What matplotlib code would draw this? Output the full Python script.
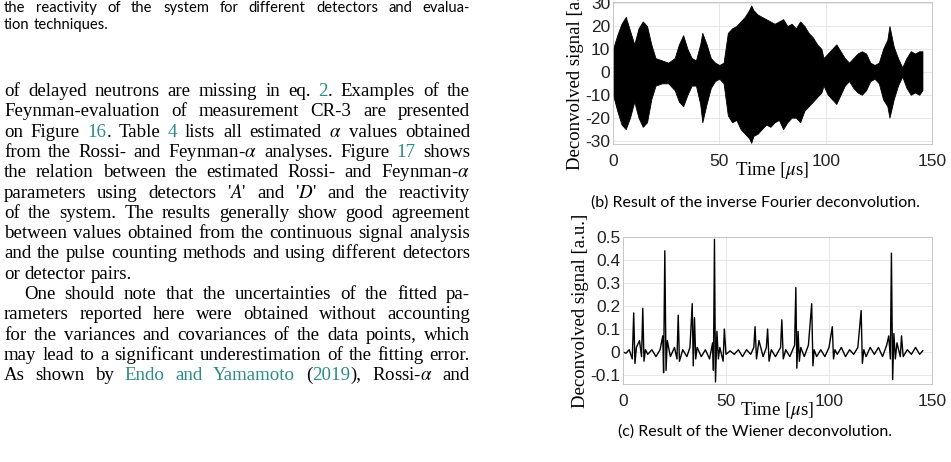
import matplotlib.pyplot as plt

## ---------------------------------------------------- DATA ----------------------------------------------------------
# (b) inverse Fourier result: envelope
fourier_t = [0, 2, 4, 6, 8, 10, 12, 14, 16, 18, 20, 23, 26, 29, 31, 33, 35, 37, 39, 41, 42, 44, 46,
             48, 50, 52, 54, 56, 58, 60, 62, 64, 65, 66, 68, 70, 72, 74, 76, 78, 80, 82, 84, 86, 88,
             90, 92, 94, 96, 98, 99, 101, 103, 105, 107, 109, 111, 113, 115, 117, 119, 121, 123,
             125, 127, 129, 130, 132, 134, 136, 138, 140, 142, 144, 145.5]
fourier_hi = [10, 16, 21, 24, 18, 12, 19, 22, 20, 12, 6, 5, 4, 6, 12, 16, 10, 6, 5, 12, 17, 12, 6,
              4, 3, 4, 17, 19, 20, 22, 24, 27, 29, 27, 25, 24, 23, 22, 21, 22, 23, 20, 21, 19, 22,
              20, 17, 15, 12, 10, 6, 8, 10, 12, 9, 6, 4, 6, 8, 9, 8, 4, 3, 4, 10, 14, 20, 11, 6,
              2, 6, 9, 8, 9, 9]
fourier_lo = [-10, -17, -23, -25, -20, -13, -20, -24, -22, -12, -6, -5, -5, -8, -13, -15, -10, -6,
              -6, -14, -22, -14, -7, -4, -3, -5, -19, -22, -21, -25, -27, -29, -31, -28, -27, -25,
              -23, -24, -22, -21, -25, -22, -20, -20, -22, -17, -15, -13, -11, -9, -6, -10, -12,
              -14, -10, -6, -4, -7, -9, -10, -8, -4, -3, -5, -12, -15, -20, -12, -6, -2, -7, -10,
              -9, -10, -8]

# (c) Wiener result
wiener_t = [0, 1.5, 3, 4.5, 5.2, 5.8, 6.5, 8, 9, 9.6, 10.2, 10.9, 12, 14, 16, 18, 19.3, 19.7, 20.3,
            20.9, 21.5, 23, 25, 26.2, 26.8, 27.4, 29, 31, 32.5, 33.6, 34.1, 34.7, 35.3, 36, 38, 40,
            42, 43.5, 43.9, 44.4, 44.9, 45.6, 46.3, 47, 48.6, 49.2, 50, 52, 54, 56, 58, 60, 62,
            63.5, 64.1, 64.8, 66, 68, 69.6, 70.2, 70.9, 72, 74, 76.5, 77.1, 77.8, 79, 81, 83.3,
            83.9, 84.4, 85, 85.6, 86.3, 88, 90, 91.6, 92.2, 92.8, 94, 96, 98, 100, 101.6, 102.2,
            102.9, 104, 106, 108, 110, 112, 114, 115.6, 116.2, 116.9, 118, 120, 122, 124, 126,
            128, 129, 129.8, 130.3, 130.9, 131.5, 132.2, 133, 134.6, 135.2, 136, 138, 140, 142,
            144, 145.5]
wiener_v = [0.0, -0.005, 0.01, -0.03, 0.17, -0.05, 0.02, 0.05, -0.02, 0.19, -0.04, 0.01, -0.01,
            0.01, -0.02, 0.01, 0.07, -0.09, 0.44, -0.08, 0.05, -0.02, 0.02, -0.03, 0.16, -0.04,
            0.01, -0.02, 0.02, 0.21, -0.06, 0.15, -0.03, 0.02, -0.02, 0.01, -0.03, 0.04, -0.08,
            0.49, -0.13, 0.09, -0.03, 0.02, -0.04, 0.10, -0.01, 0.005, -0.01, 0.01, -0.02, 0.01,
            -0.01, 0.02, 0.11, -0.03, 0.05, -0.02, 0.02, 0.10, -0.04, 0.01, -0.02, 0.02, 0.14,
            -0.03, 0.01, -0.02, 0.03, 0.28, -0.07, 0.09, -0.04, 0.02, -0.02, 0.03, 0.21, -0.06,
            0.01, -0.02, 0.01, -0.02, 0.02, 0.11, -0.03, 0.01, -0.01, 0.02, -0.02, 0.01, -0.01,
            0.02, 0.18, -0.05, 0.01, -0.02, 0.02, -0.01, 0.02, -0.02, 0.03, 0.07, -0.03, 0.43,
            -0.12, 0.08, -0.03, 0.04, -0.02, 0.07, -0.02, 0.01, -0.01, 0.02, -0.01, 0.005]

# left column text; pieces in {} are link-coloured
caption_lines = ["the reactivity of the system for different detectors and evalua-",
                 "tion techniques."]
body_lines = [
    "of delayed neutrons are missing in eq. {2}. Examples of the",
    "Feynman-evaluation of measurement CR-3 are presented",
    "on Figure {16}. Table {4} lists all estimated $\\alpha$ values obtained",
    "from the Rossi- and Feynman-$\\alpha$ analyses. Figure {17} shows",
    "the relation between the estimated Rossi- and Feynman-$\\alpha$",
    "parameters using detectors '$A$' and '$D$' and the reactivity",
    "of the system. The results generally show good agreement",
    "between values obtained from the continuous signal analysis",
    "and the pulse counting methods and using different detectors",
    "or detector pairs.",
    "One should note that the uncertainties of the fitted pa-",
    "rameters reported here were obtained without accounting",
    "for the variances and covariances of the data points, which",
    "may lead to a significant underestimation of the fitting error.",
    "As shown by {Endo} {and} {Yamamoto} ({2019}), Rossi-$\\alpha$ and",
]

## ---------------------------------------------------- FIGURE --------------------------------------------------------
W, H = 951, 462
plt.rcParams["mathtext.fontset"] = "stix"
fig = plt.figure(figsize=(W / 100, H / 100), dpi=100)

def px_axes(x0, y0, x1, y1):
    return fig.add_axes([x0 / W, 1 - y1 / H, (x1 - x0) / W, (y1 - y0) / H])

def style(ax, yticks, ylabels):
    ax.set_xlim(0, 150)
    ax.set_xticks([0, 50, 100, 150])
    ax.set_yticks(yticks)
    ax.set_yticklabels(ylabels)
    ax.grid(color="#e3e3e3", lw=0.6)
    ax.set_axisbelow(True)
    for s in ax.spines.values():
        s.set_color("#c0c0c0")
        s.set_linewidth(0.6)
    ax.tick_params(length=0, labelsize=12.5, pad=2, colors="#222222")
    ax.tick_params(axis="x", pad=7)
    for lab in ax.get_xticklabels() + ax.get_yticklabels():
        lab.set_family("Liberation Sans")
    ax.set_xlabel(r"Time $[\mu$s$]$", fontsize=13.5, family="Liberation Serif", labelpad=-6)
    ax.set_ylabel("Deconvolved signal [a.u.]", fontsize=13.5, family="Liberation Serif",
                  labelpad=1)

# (b)
ax1 = px_axes(613, 2, 932, 144)
ax1.fill_between(fourier_t, fourier_lo, fourier_hi, color="black", lw=0.6)
ax1.set_ylim(-31.5, 30.5)
style(ax1, [-30, -20, -10, 0, 10, 20, 30], ["-30", "-20", "-10", "0", "10", "20", "30"])
fig.text(755 / W, 1 - 203 / H, "(b) Result of the inverse Fourier deconvolution.",
         ha="center", va="center", fontsize=11.5, family="Lato")

# (c)
ax2 = px_axes(623, 237, 932, 384)
ax2.plot(wiener_t, wiener_v, color="black", lw=1.0)
ax2.set_ylim(-0.139, 0.5)
style(ax2, [-0.1, 0, 0.1, 0.2, 0.3, 0.4, 0.5], ["-0.1", "0", "0.1", "0.2", "0.3", "0.4", "0.5"])
fig.text(755 / W, 1 - 432 / H, "(c) Result of the Wiener deconvolution.",
         ha="center", va="center", fontsize=11.5, family="Lato")

# left column text, justified
fig.canvas.draw()
renderer = fig.canvas.get_renderer()
LINK = "#2e8b8b"

def put_line(line, y, size, family, x0, x1, justify):
    items = []
    for w in line.split(" "):
        parts = []
        rest = w
        while rest:
            if "{" in rest:
                i = rest.index("{")
                j = rest.index("}")
                if i > 0:
                    parts.append((rest[:i], "black"))
                parts.append((rest[i + 1:j], LINK))
                rest = rest[j + 1:]
            else:
                parts.append((rest, "black"))
                rest = ""
        items.append(parts)
    groups, widths = [], []
    for parts in items:
        group, wsum = [], 0
        for txt, col in parts:
            t = fig.text(0, 1 - y / H, txt, fontsize=size, family=family, color=col, va="baseline")
            wpx = t.get_window_extent(renderer).width
            group.append((t, wpx))
            wsum += wpx
        groups.append(group)
        widths.append(wsum)
    space = size * 0.27 * 100 / 72
    if justify and len(items) > 1:
        space = (x1 - x0 - sum(widths)) / (len(items) - 1)
    x = x0
    for group in groups:
        for t, wpx in group:
            t.set_x(x / W)
            x += wpx
        x += space

for i, line in enumerate(caption_lines):
    put_line(line, 12 + i * 17, 10.6, "Lato", 4, 470, i == 0)

for i, line in enumerate(body_lines):
    x0 = 24 if i == 10 else 4
    put_line(line, 96 + i * 20.3, 13.6, "Liberation Serif", x0, 470, i != 9)

fig.savefig("out.png", dpi=100)
